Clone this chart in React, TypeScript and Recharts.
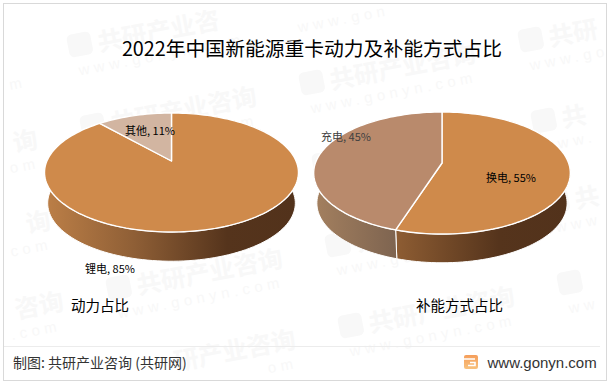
import { PieChart, Pie, Cell } from 'recharts';

// left pie
const powerNames = ['锂电', '其他'];
const powerValues = [85, 11];
// right pie
const refuelNames = ['换电', '充电'];
const refuelValues = [55, 45];

const powerData = powerNames.map((name, i) => ({ name, value: powerValues[i] }));
const refuelData = refuelNames.map((name, i) => ({ name, value: refuelValues[i] }));

const FONT = '"Noto Sans CJK SC", "Noto Sans", sans-serif';

// tilted disc: far side squeezed, near side stretched
function project(cx: number, cy: number, r: number, a: number, k: number, ky: number, scale = 1, dy = 0) {
  const rad = (a * Math.PI) / 180;
  const w = 1 + k * Math.sin(rad);
  return [cx + (r * scale * Math.cos(rad)) / w, cy + dy - (ky * scale * Math.sin(rad)) / w];
}

function arc(props: any, k: number, ky: number, scale = 1, dy = 0) {
  const { cx, cy, outerRadius, startAngle, endAngle } = props;
  const pts: number[][] = [];
  const steps = Math.max(8, Math.ceil(Math.abs(endAngle - startAngle) / 2));
  for (let i = 0; i <= steps; i++) {
    const a = startAngle + ((endAngle - startAngle) * i) / steps;
    pts.push(project(cx, cy, outerRadius, a, k, ky, scale, dy));
  }
  return pts;
}

const toPath = (pts: number[][]) => pts.map((p, i) => `${i ? 'L' : 'M'}${p[0].toFixed(2)} ${p[1].toFixed(2)}`).join(' ');

function faceShape(k: number, ky: number) {
  return (props: any) => {
    const d = `M${props.cx} ${props.cy} ` + toPath(arc(props, k, ky)).replace('M', 'L') + ' Z';
    return <path d={d} fill={props.fill} stroke="#fff" strokeWidth={1.4} strokeLinejoin="round" />;
  };
}

function wallShape(k: number, ky: number, depth: number) {
  return (props: any) => {
    const top = arc(props, k, ky);
    const bottom = arc(props, k, ky, 0.975, depth).reverse();
    return <path d={toPath([...top, ...bottom]) + ' Z'} fill={props.fill} stroke="#fff" strokeWidth={1} />;
  };
}

const powerLabelPos = [[110, 268], [150, 130]];
const refuelLabelPos = [[511, 177], [346, 136]];
const refuelLabelColor = ['#000', '#404040'];

function sliceLabel(pos: number[][], colors?: string[]) {
  return (props: any) => (
    <text
      x={pos[props.index][0]}
      y={pos[props.index][1]}
      textAnchor="middle"
      dominantBaseline="central"
      fontSize={11}
      fontFamily={FONT}
      fill={colors ? colors[props.index] : '#000'}
    >
      {`${props.name}, ${props.value}%`}
    </text>
  );
}

// watermark: only the characters that fit on the page are written
const MARK_TEXT = '共研产业咨询';
const MARK_URL = 'www.gonyn.com';
const TILT = (-10.8 * Math.PI) / 180;

function visibleRun(text: string, x: number, y: number, offX: number, offY: number, step: number, size: number) {
  const inside = (i: number) => {
    const lx = offX + i * step;
    const px = x + lx * Math.cos(TILT) - offY * Math.sin(TILT);
    const py = y + lx * Math.sin(TILT) + offY * Math.cos(TILT);
    const ex = px + step * Math.cos(TILT);
    return px > 5 && ex < 606 && py - size > 5 && py + 4 < 378;
  };
  let from = -1;
  let to = -1;
  for (let i = 0; i < text.length; i++) {
    if (inside(i)) {
      if (from < 0) from = i;
      to = i;
    }
  }
  if (from < 0) return null;
  return { str: text.slice(from, to + 1), at: offX + from * step };
}

function Watermark() {
  const tiles = [];
  for (let i = -2; i <= 3; i++) {
    for (let j = -2; j <= 5; j++) {
      const x = 70 + i * 232 + j * 13;
      const y = 57 + i * 38 + j * 81;
      const title = visibleRun(MARK_TEXT, x, y, 30, 0, 24.7, 25);
      const url = visibleRun(MARK_URL, x, y, 6, 20, 12.7, 13);
      const logoIn = x > 5 && x + 24 < 606 && y - 28 > 5 && y + 4 < 378;
      if (!title && !url && !logoIn) continue;
      tiles.push(
        <g key={`${i}-${j}`} transform={`translate(${x} ${y}) rotate(-10.8)`} fill="#f8f8f8" fontFamily={FONT}>
          {logoIn && <rect x={0} y={-22} width={24} height={23} rx={5} />}
          {title && (
            <text x={title.at} y={0} fontSize={24.7} fontWeight={700}>
              {title.str}
            </text>
          )}
          {url && (
            <text x={url.at} y={20} fontSize={15} letterSpacing={4.6} fontFamily='"Liberation Sans", sans-serif'>
              {url.str}
            </text>
          )}
        </g>
      );
    }
  }
  return (
    <svg width={613} height={384} style={{ position: 'absolute', left: 0, top: 0 }}>
      {tiles}
    </svg>
  );
}

const textStyle = { position: 'absolute', fontFamily: FONT, whiteSpace: 'nowrap', lineHeight: 1 } as const;

export default function App() {
  return (
    <div style={{ position: 'absolute', left: 0, top: 0, width: 613, height: 384, background: '#fff', overflow: 'hidden' }}>
      <Watermark />
      <div style={{ position: 'absolute', left: 3, top: 3, width: 602, height: 376, border: '1px solid #d9d9d9' }} />
      <div style={{ position: 'absolute', left: 4, top: 346, width: 596, height: 1, background: '#ececec' }} />

      <div style={{ ...textStyle, left: 0, width: 624, textAlign: 'center', top: 38, fontSize: 19.8, color: '#000' }}>
        2022年中国新能源重卡动力及补能方式占比
      </div>

      <div style={{ position: 'absolute', left: 0, top: 0 }}>
        <PieChart width={613} height={384} margin={{ top: 0, right: 0, bottom: 0, left: 0 }}>
          <defs>
            <linearGradient id="wallPower" gradientUnits="userSpaceOnUse" x1={45} y1={0} x2={298} y2={0}>
              <stop offset="0%" stopColor="#BC7F47" />
              <stop offset="35%" stopColor="#8F5F36" />
              <stop offset="72%" stopColor="#55341C" />
              <stop offset="100%" stopColor="#52321B" />
            </linearGradient>
            <linearGradient id="wallSwap" gradientUnits="userSpaceOnUse" x1={313} y1={0} x2={571} y2={0}>
              <stop offset="32%" stopColor="#8E5D33" />
              <stop offset="72%" stopColor="#55341C" />
              <stop offset="100%" stopColor="#52321B" />
            </linearGradient>
            <linearGradient id="wallCharge" gradientUnits="userSpaceOnUse" x1={313} y1={0} x2={396} y2={0}>
              <stop offset="0%" stopColor="#A4805F" />
              <stop offset="100%" stopColor="#7E6450" />
            </linearGradient>
          </defs>

          <Pie
            data={powerData}
            dataKey="value"
            nameKey="name"
            cx={171.5}
            cy={161}
            outerRadius={124.6}
            startAngle={90}
            endAngle={-270}
            paddingAngle={0}
            isAnimationActive={false}
            labelLine={false}
            shape={wallShape(0.193, 57.3, 31)}
          >
            <Cell fill="url(#wallPower)" />
            <Cell fill="url(#wallPower)" />
          </Pie>
          <Pie
            data={powerData}
            dataKey="value"
            nameKey="name"
            cx={171.5}
            cy={161}
            outerRadius={124.6}
            startAngle={90}
            endAngle={-270}
            isAnimationActive={false}
            labelLine={false}
            label={sliceLabel(powerLabelPos)}
            shape={faceShape(0.193, 57.3)}
          >
            <Cell fill="#CF8A4B" />
            <Cell fill="#D2B5A1" />
          </Pie>

          <Pie
            data={refuelData}
            dataKey="value"
            nameKey="name"
            cx={442}
            cy={163}
            outerRadius={126.6}
            startAngle={90}
            endAngle={-270}
            isAnimationActive={false}
            labelLine={false}
            shape={wallShape(0.164, 59.4, 30.5)}
          >
            <Cell fill="url(#wallSwap)" />
            <Cell fill="url(#wallCharge)" />
          </Pie>
          <Pie
            data={refuelData}
            dataKey="value"
            nameKey="name"
            cx={442}
            cy={163}
            outerRadius={126.6}
            startAngle={90}
            endAngle={-270}
            isAnimationActive={false}
            labelLine={false}
            label={sliceLabel(refuelLabelPos, refuelLabelColor)}
            shape={faceShape(0.164, 59.4)}
          >
            <Cell fill="#CF8A4B" />
            <Cell fill="#B98A6C" />
          </Pie>
        </PieChart>
      </div>

      <div style={{ ...textStyle, left: 71, top: 298, fontSize: 14.5, color: '#000' }}>动力占比</div>
      <div style={{ ...textStyle, left: 416, top: 298, fontSize: 14.5, color: '#000' }}>补能方式占比</div>

      <div style={{ ...textStyle, left: 13, top: 355, fontSize: 14, color: '#333' }}>制图: 共研产业咨询 (共研网)</div>
      <svg width={15} height={15} style={{ position: 'absolute', left: 464, top: 355 }}>
        <defs>
          <linearGradient id="logoFill" x1="0" y1="0" x2="0" y2="1">
            <stop offset="0%" stopColor="#F59E5B" />
            <stop offset="100%" stopColor="#F8C27E" />
          </linearGradient>
        </defs>
        <rect width={14} height={14} rx={2} fill="url(#logoFill)" />
        <path d="M0 4H11M6 7.5H11V10.5H4" stroke="#fff" strokeWidth={1.6} fill="none" />
      </svg>
      <div style={{ ...textStyle, left: 487.5, top: 355, fontSize: 15, fontFamily: '"Liberation Sans", sans-serif', color: '#333' }}>www.gonyn.com</div>
    </div>
  );
}
